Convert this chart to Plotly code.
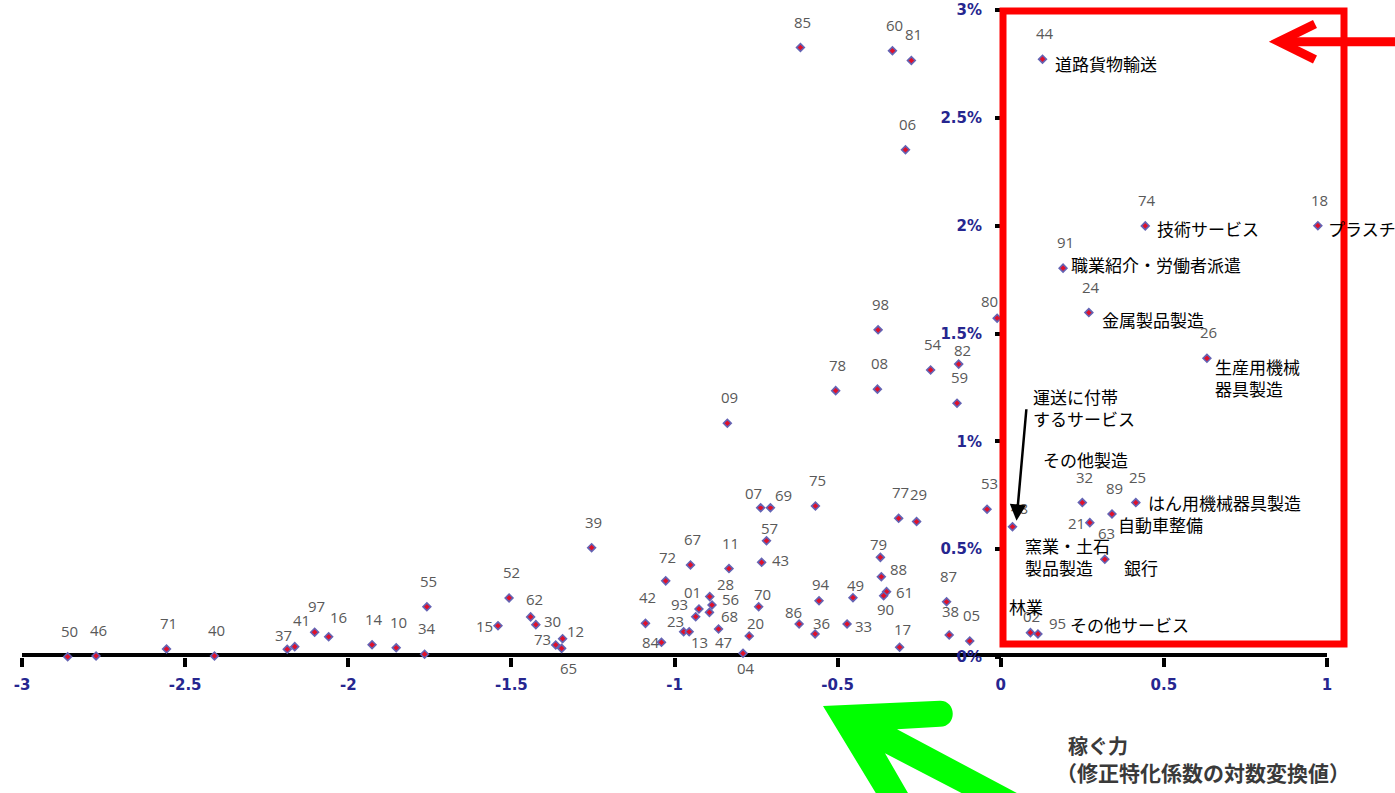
import plotly.graph_objects as go

# ---------------- data ----------------
codes = ["50", "46", "71", "40", "37", "41", "97", "16", "14", "10", "34", "55",
         "15", "52", "62", "30", "73", "12", "65", "39", "42", "84", "72", "67",
         "01", "93", "28", "56", "68", "23", "13", "47", "11", "20", "04", "09",
         "07", "69", "57", "43", "70", "75", "94", "86", "36", "33", "49", "79",
         "88", "61", "90", "17", "77", "29", "87", "38", "05", "53", "85", "60",
         "81", "06", "98", "78", "08", "54", "82", "59", "80", "44", "74", "18",
         "91", "24", "26", "48", "32", "25", "89", "21", "63", "02", "95"]

# 稼ぐ力（修正特化係数の対数変換値）
x_vals = [-2.860, -2.773, -2.557, -2.410, -2.187, -2.164, -2.103, -2.060, -1.927, -1.853, -1.766, -1.759,
          -1.541, -1.507, -1.441, -1.425, -1.364, -1.343, -1.346, -1.254, -1.089, -1.040, -1.027, -0.951,
          -0.925, -0.935, -0.892, -0.885, -0.893, -0.972, -0.955, -0.865, -0.833, -0.771, -0.790, -0.838,
          -0.736, -0.706, -0.718, -0.733, -0.742, -0.568, -0.557, -0.618, -0.569, -0.471, -0.453, -0.369,
          -0.366, -0.350, -0.359, -0.310, -0.313, -0.258, -0.166, -0.158, -0.095, -0.042, -0.614, -0.332,
          -0.274, -0.292, -0.376, -0.506, -0.378, -0.215, -0.129, -0.134, -0.011, 0.128, 0.443, 0.972,
          0.191, 0.270, 0.632, 0.036, 0.250, 0.414, 0.341, 0.273, 0.319, 0.091, 0.114]

# 従業者割合 (%)
y_vals = [0.001, 0.005, 0.037, 0.005, 0.036, 0.048, 0.115, 0.094, 0.057, 0.043, 0.013, 0.233,
          0.145, 0.274, 0.186, 0.150, 0.056, 0.085, 0.040, 0.507, 0.156, 0.068, 0.353, 0.427,
          0.223, 0.187, 0.280, 0.241, 0.207, 0.117, 0.117, 0.130, 0.410, 0.097, 0.017, 1.084,
          0.692, 0.692, 0.539, 0.439, 0.233, 0.700, 0.261, 0.153, 0.107, 0.153, 0.275, 0.462,
          0.372, 0.303, 0.284, 0.045, 0.643, 0.628, 0.256, 0.102, 0.074, 0.685, 2.826, 2.811,
          2.766, 2.352, 1.517, 1.235, 1.242, 1.331, 1.358, 1.177, 1.571, 2.772, 1.999, 2.000,
          1.803, 1.597, 1.385, 0.604, 0.716, 0.716, 0.663, 0.623, 0.453, 0.113, 0.107]

name_codes = ["44", "74", "18", "91", "24", "26", "48", "32", "25", "89", "21", "63", "02", "95"]
name_texts = ["道路貨物輸送", "技術サービス", "プラスチック製品製造", "職業紹介・労働者派遣",
              "金属製品製造", "生産用機械<br>器具製造", "運送に付帯<br>するサービス", "その他製造",
              "はん用機械器具製造", "自動車整備", "窯業・土石<br>製品製造", "銀行", "林業",
              "その他サービス"]

x_ticks = [-3, -2.5, -2, -1.5, -1, -0.5, 0, 0.5, 1]
x_tick_text = ["-3", "-2.5", "-2", "-1.5", "-1", "-0.5", "0", "0.5", "1"]
y_ticks = [0, 0.5, 1, 1.5, 2, 2.5, 3]
y_tick_text = ["0%", "0.5%", "1%", "1.5%", "2%", "2.5%", "3%"]

x_title_1 = "稼ぐ力"
x_title_2 = "（修正特化係数の対数変換値）"

# ---------------- style (label placement in screen pixels: dx right, dy down) ----------------
DEFAULT_OFF = (2, -26)
code_label_off = {
    "37": (-4, -14), "41": (7, -27), "16": (10, -20), "15": (-14, 0), "62": (4, -18),
    "30": (17, -4), "73": (-13, -6), "12": (13, -8), "65": (7, 20), "84": (-10, 0),
    "72": (2, -24), "01": (-6, -17), "93": (-16, -13), "28": (16, -13), "56": (18, -6),
    "68": (20, 4), "23": (-8, -11), "13": (10, 10), "47": (5, 13), "20": (6, -13),
    "04": (3, 15), "07": (-7, -15), "69": (13, -13), "57": (3, -13), "43": (19, -2),
    "70": (4, -13), "94": (2, -17), "86": (-6, -12), "36": (6, -11), "33": (16, 2),
    "49": (3, -13), "79": (-2, -13), "88": (17, -8), "61": (18, 0), "90": (2, 13),
    "17": (3, -18), "29": (2, -28), "38": (1, -24), "82": (4, -14), "80": (-8, -17),
    "48": (7, -19), "21": (-13, 0), "02": (1, -17), "95": (20, -11),
}
name_off = {
    "44": (10, 4), "74": (10, 3), "18": (8, 3), "91": (6, -4), "24": (11, 7),
    "26": (6, 19), "48": (18, -119), "32": (-41, -43), "25": (10, 0), "89": (4, 10),
    "21": (-67, 34), "63": (17, 8), "02": (-23, -26), "95": (30, -9),
}

# page body margin is removed in post_script, so figure pixels == page pixels
W, H = 1395, 793
PLOT_L, PLOT_R, PLOT_T, PLOT_B = 22, 1327, 10, 657
ML, MT = PLOT_L, PLOT_T
MR, MB = W - PLOT_R, H - PLOT_B
PW, PH = PLOT_R - PLOT_L, PLOT_B - PLOT_T


def px(xp):
    return (xp - PLOT_L) / PW


def py(yp):
    return (PLOT_B - yp) / PH


NAVY = "#26268f"
LABEL_GRAY = "#595959"
JP = "Noto Sans CJK JP"

fig = go.Figure()
fig.add_trace(go.Scatter(
    x=x_vals, y=y_vals, mode="markers",
    marker=dict(symbol="diamond", size=6, color="#e0102a",
                line=dict(color="#6464b4", width=1.6)),
    cliponaxis=False, hoverinfo="text", text=codes, showlegend=False,
))

annotations = []
for c, xv, yv in zip(codes, x_vals, y_vals):
    dx, dy = code_label_off.get(c, DEFAULT_OFF)
    annotations.append(dict(
        x=xv, y=yv, xref="x", yref="y", text=c, showarrow=False,
        xshift=dx, yshift=-dy, xanchor="center", yanchor="middle",
        font=dict(family="Open Sans", size=15, color=LABEL_GRAY),
    ))

lookup = {c: (xv, yv) for c, xv, yv in zip(codes, x_vals, y_vals)}
for c, t in zip(name_codes, name_texts):
    xv, yv = lookup[c]
    dx, dy = name_off[c]
    annotations.append(dict(
        x=xv, y=yv, xref="x", yref="y", text=t, showarrow=False,
        xshift=dx, yshift=-dy, xanchor="left", yanchor="middle", align="left",
        font=dict(family=JP, size=17, color="#000000"),
    ))

# black arrow to 運送に付帯するサービス point
xv48, yv48 = lookup["48"]
annotations.append(dict(
    x=xv48, y=yv48, xref="x", yref="y", text="", showarrow=True,
    ax=10, ay=-113, xshift=4, yshift=6, arrowhead=2, arrowsize=1.3, arrowwidth=2.5,
    arrowcolor="#000000", standoff=0,
))

# axis title
annotations.append(dict(x=px(1066), y=py(745), xref="paper", yref="paper", text=x_title_1,
                        showarrow=False, xanchor="left", yanchor="middle",
                        font=dict(family=JP, size=20, color="#3a3a3a", weight="bold")))
annotations.append(dict(x=px(1054), y=py(772), xref="paper", yref="paper", text=x_title_2,
                        showarrow=False, xanchor="left", yanchor="middle",
                        font=dict(family=JP, size=21, color="#3a3a3a", weight="bold")))

shapes = []
# x axis thick line at y=0
shapes.append(dict(type="line", xref="x", yref="y", x0=-3, x1=1, y0=0, y1=0,
                   line=dict(color="#000000", width=8), layer="below"))
# red box
shapes.append(dict(type="rect", xref="paper", yref="paper",
                   x0=px(1003), x1=px(1344), y0=py(644), y1=py(11),
                   line=dict(color="#ff0000", width=7), layer="above"))
# red arrow
shapes.append(dict(type="path", xref="paper", yref="paper",
                   path=f"M {px(1400)},{py(41.7)} L {px(1279)},{py(41.7)}",
                   line=dict(color="#ff0000", width=9)))
shapes.append(dict(type="path", xref="paper", yref="paper",
                   path=f"M {px(1315)},{py(24)} L {px(1279)},{py(41.7)} L {px(1315)},{py(59.5)}",
                   line=dict(color="#ff0000", width=9)))
# green arrow (filled)
gp = f"M {px(823)},{py(706)} L {px(940)},{py(700.7)} " \
     f"C {px(957)},{py(700.7)} {px(957)},{py(726.7)} {px(940)},{py(726.7)} " \
     f"L {px(897)},{py(729.3)} L {px(1030)},{py(800)} L {px(975)},{py(800)} " \
     f"L {px(885)},{py(753.3)} L {px(912)},{py(800)} L {px(880)},{py(800)} Z"
shapes.append(dict(type="path", xref="paper", yref="paper", path=gp,
                   fillcolor="#00ff00", line=dict(width=0), layer="above"))

fig.update_layout(
    template="none",
    width=W, height=H, autosize=False,
    margin=dict(l=ML, r=MR, t=MT, b=MB, pad=0, autoexpand=False),
    paper_bgcolor="#ffffff", plot_bgcolor="#ffffff",
    showlegend=False, hovermode=False,
    annotations=annotations, shapes=shapes,
    xaxis=dict(range=[-3, 1], tickvals=x_ticks, ticktext=x_tick_text, automargin=False,
               showgrid=False, zeroline=False, showline=False,
               ticks="outside", ticklen=9, tickwidth=4, tickcolor="#000000",
               ticklabelstandoff=5, layer="below traces", ticklabeloverflow="allow",
               tickfont=dict(family="DejaVu Sans", size=15, color=NAVY, weight="bold")),
    yaxis=dict(range=[0, 3], tickvals=y_ticks, ticktext=y_tick_text, automargin=False,
               anchor="free", position=px(1001),
               showgrid=False, zeroline=False, showline=False,
               ticks="outside", ticklen=6, tickwidth=4, tickcolor="#000000",
               ticklabelstandoff=10, layer="below traces", ticklabeloverflow="allow",
               tickfont=dict(family="DejaVu Sans", size=15, color=NAVY, weight="bold")),
)

fig.write_html("out.html", config={"displayModeBar": False, "staticPlot": True},
               post_script="document.body.style.margin='0px';")
